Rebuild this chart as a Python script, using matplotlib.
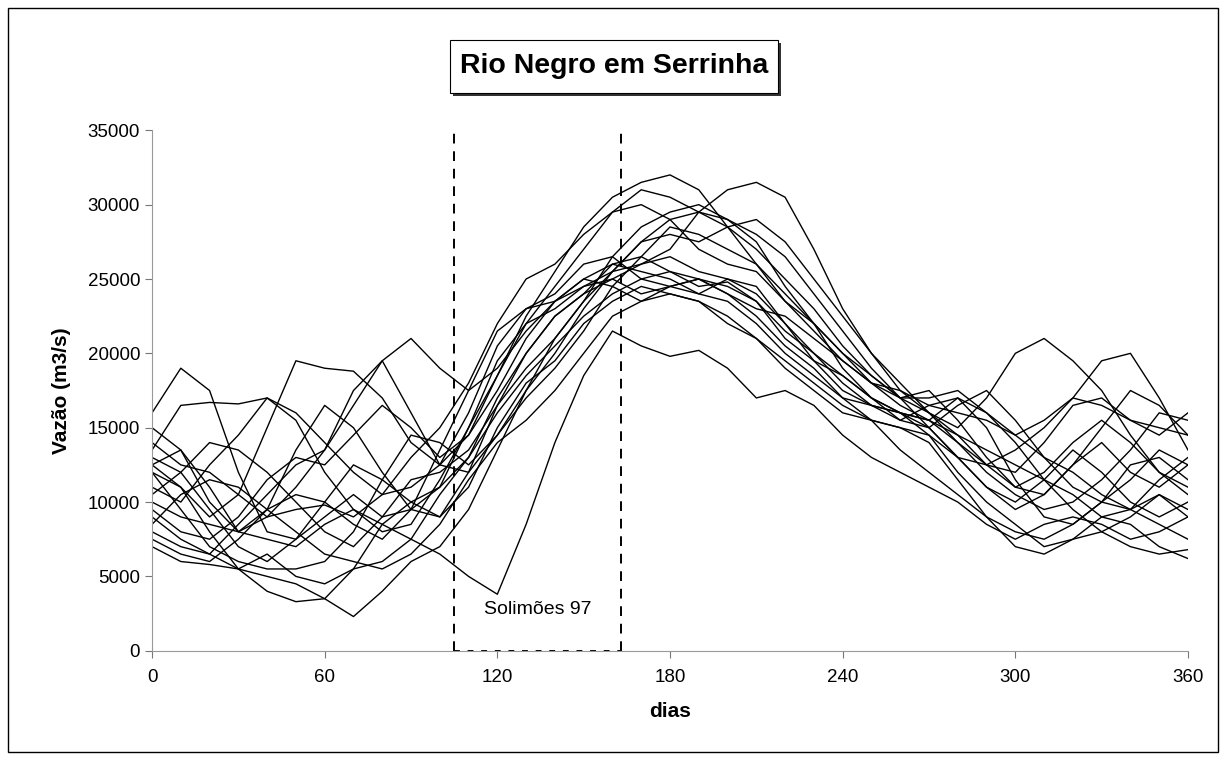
import matplotlib
matplotlib.use("Agg")
from matplotlib import pyplot as plt
from matplotlib.patches import Rectangle

plt.rcParams['font.family'] = ['Liberation Sans', 'DejaVu Sans']

# days sampled every 10 days
dias = list(range(0, 361, 10))

# daily discharge (m3/s) of each year
ano01 = [16000, 19000, 17500, 12000, 8000, 7500, 9000, 10500, 9000, 9500, 11000, 15000, 19500, 22000, 24500, 27000, 29500, 31000, 30500,
         29500, 28500, 27000, 25000, 23000, 20500, 18500, 17000, 16000, 14500, 12500, 11000, 10500, 12500, 14000, 12000, 11000, 12500]
ano02 = [12000, 11000, 9000, 10500, 15000, 19500, 19000, 18800, 17000, 14000, 12500, 14500, 18500, 22500, 25500, 28500, 30500, 31500, 32000,
         31000, 28500, 26000, 23500, 22000, 20000, 18500, 17000, 17000, 17500, 16000, 14500, 13000, 12000, 10500, 9500, 10500, 9500]
ano03 = [8000, 7000, 6500, 8500, 10500, 12500, 13500, 16500, 19500, 21000, 19000, 17500, 19000, 21500, 23500, 24500, 25500, 26000, 27000,
         29500, 31000, 31500, 30500, 27000, 23000, 20000, 17500, 16000, 15000, 17000, 20000, 21000, 19500, 17500, 14500, 12000, 11000]
ano04 = [13500, 16500, 16700, 16600, 17000, 16000, 14000, 12000, 10500, 11000, 12500, 16000, 20500, 23000, 24000, 26000, 26500, 25000, 24500,
         25000, 24000, 23000, 22500, 21000, 19500, 18000, 17500, 16500, 16000, 15500, 14500, 15500, 17000, 16500, 15500, 15000, 14500]
ano05 = [10000, 9000, 8500, 8000, 7500, 7000, 8500, 9500, 8500, 7500, 6500, 5000, 3800, 8500, 14000, 18500, 21500, 20500, 19800,
         20200, 19000, 17000, 17500, 16500, 14500, 13000, 12000, 11000, 10000, 8500, 7500, 8500, 9000, 8500, 7500, 8000, 9000]
ano06 = [9000, 7500, 6500, 5500, 5000, 4500, 3500, 2300, 4000, 6000, 7000, 9500, 13500, 17500, 21000, 23500, 25500, 27500, 29000,
         29500, 29000, 28000, 26500, 24000, 21500, 19000, 17000, 15000, 13000, 11000, 10000, 11500, 13500, 12000, 10000, 9000, 10000]
ano07 = [12500, 11000, 8000, 5500, 4000, 3300, 3500, 5500, 8500, 10000, 11000, 13000, 17000, 20000, 22500, 24000, 26000, 26500, 25500,
         24500, 24800, 23500, 21000, 19500, 17500, 16500, 16000, 15500, 14000, 12000, 10500, 9500, 10000, 11500, 13500, 16000, 15500]
ano08 = [15000, 13500, 11000, 8000, 9500, 13500, 16500, 15000, 12000, 9500, 9000, 12000, 16500, 19000, 21000, 23500, 26500, 28500, 29500,
         30000, 29000, 27500, 24500, 22000, 19000, 17000, 16000, 15500, 17000, 15000, 11500, 9000, 8500, 10000, 12500, 13000, 11500]
ano09 = [11000, 10000, 12500, 14500, 17000, 15500, 12000, 9500, 8000, 8500, 11500, 15000, 18500, 22000, 23000, 24500, 25000, 24000, 24500,
         24000, 25000, 24500, 22000, 19500, 18500, 17000, 16000, 15000, 13000, 11000, 9500, 10500, 12500, 15000, 17500, 16500, 14500]
ano10 = [7500, 6500, 6000, 7500, 9500, 10500, 10000, 8500, 7500, 9500, 13500, 17500, 21500, 23000, 23500, 25000, 26000, 25500, 25000,
         24000, 23500, 22000, 20000, 18500, 17000, 16500, 16000, 14500, 12000, 10000, 8500, 7000, 7500, 9000, 8500, 7000, 6200]
ano11 = [13000, 12000, 9500, 7000, 6000, 7500, 10000, 12500, 11500, 10000, 9000, 11000, 15000, 18000, 19500, 22000, 23500, 24500, 24000,
         23500, 22000, 21000, 19500, 18000, 16500, 15500, 15000, 14000, 11500, 9000, 7000, 6500, 7500, 8000, 7000, 6500, 6800]
ano12 = [14000, 12500, 12000, 10500, 9000, 9500, 9800, 9000, 10500, 13000, 15000, 18000, 22000, 25000, 26000, 28000, 29500, 30000, 29000,
         27000, 26000, 25500, 23500, 21500, 19500, 18000, 17000, 17500, 15500, 13000, 11000, 12000, 14000, 15500, 14000, 12000, 10500]
ano13 = [8500, 10500, 11500, 11000, 9500, 8000, 6500, 6000, 5500, 6500, 8500, 11500, 14000, 15500, 17500, 20000, 22500, 23500, 24000,
         23500, 22500, 21000, 19000, 17500, 16000, 15500, 15000, 14500, 13000, 12500, 13500, 15000, 17000, 19500, 20000, 17000, 13500]
ano14 = [10500, 12000, 14000, 13500, 12000, 10000, 8000, 7000, 9000, 11500, 12000, 13500, 16500, 20000, 22500, 24000, 25000, 26000, 26500,
         25500, 25000, 24000, 22000, 20000, 18000, 16500, 15500, 15000, 16500, 17500, 15500, 13000, 11000, 10000, 11500, 13500, 12500]
ano15 = [12000, 9500, 7000, 6000, 5500, 5500, 6000, 8000, 11500, 14500, 14000, 12500, 14500, 17000, 19000, 21500, 24500, 26500, 28500,
         28000, 27000, 26000, 24000, 22000, 20000, 18000, 16500, 15500, 14500, 13500, 12500, 11500, 10500, 9000, 9500, 11500, 13000]
ano16 = [9500, 8000, 7500, 9000, 11500, 13000, 12500, 14500, 16500, 15000, 13000, 14500, 17500, 21000, 23500, 25000, 24500, 23500, 24500,
         25000, 24500, 23500, 21500, 20000, 18500, 17000, 15500, 16500, 17000, 16000, 14000, 11500, 9500, 8000, 9000, 10500, 9000]
ano17 = [7000, 6000, 5800, 5500, 6500, 5000, 4500, 5500, 6000, 7500, 10500, 13000, 16000, 18500, 20500, 22500, 24000, 25000, 25500,
         25000, 24000, 22500, 20500, 19000, 17000, 15500, 13500, 12000, 10500, 9000, 8000, 7500, 8500, 10000, 9500, 8500, 7500]
ano18 = [12500, 13500, 10000, 8000, 9000, 11000, 13500, 17500, 19500, 16000, 12500, 12000, 14500, 17500, 20000, 23000, 25500, 27500, 28000,
         27500, 28500, 29000, 27500, 25000, 22500, 20000, 18000, 16000, 14000, 12500, 12000, 14000, 16500, 17000, 15500, 14500, 16000]

anos = [ano01, ano02, ano03, ano04, ano05, ano06, ano07, ano08, ano09,
        ano10, ano11, ano12, ano13, ano14, ano15, ano16, ano17, ano18]

# window of the Solimoes 97 campaign
janela = [105, 163]

fig = plt.figure(figsize=(12.26, 7.62), dpi=100)
ax = fig.add_axes([0.124, 0.146, 0.845, 0.683])

for serie in anos:
    ax.plot(dias, serie, color='black', linewidth=1.0)

# dashed box marking the campaign
for d in janela:
    ax.plot([d, d], [0, 35000], color='black', linestyle=(0, (5, 4)), linewidth=1.4)
ax.plot(janela, [0, 0], color='black', linestyle=(0, (3, 4)), linewidth=1.4)
ax.text(sum(janela) / 2, 2800, 'Solimões 97', ha='center', va='center', fontsize=14)

ax.set_xlim(0, 360)
ax.set_ylim(0, 35000)
ax.set_xticks(range(0, 361, 60))
ax.set_yticks(range(0, 35001, 5000))
ax.tick_params(axis='both', labelsize=13.5, length=5, color='#777777')
ax.tick_params(axis='x', pad=8)
ax.spines['top'].set_visible(False)
ax.spines['right'].set_visible(False)
ax.spines['left'].set_color('#999999')
ax.spines['bottom'].set_color('#999999')
ax.set_xlabel('dias', fontsize=15, fontweight='bold', labelpad=12)
ax.set_ylabel('Vazão (m3/s)', fontsize=15, fontweight='bold', labelpad=12)

# title box with shadow
fig.patches.append(Rectangle((453 / 1226, 1 - 96 / 762), 328 / 1226, 53 / 762,
                             transform=fig.transFigure, facecolor='#333333', edgecolor='none'))
fig.patches.append(Rectangle((450 / 1226, 1 - 93 / 762), 328 / 1226, 53 / 762,
                             transform=fig.transFigure, facecolor='white', edgecolor='black', linewidth=0.8))
fig.text(614 / 1226, 1 - 66 / 762, 'Rio Negro em Serrinha', ha='center', va='center',
         fontsize=20.5, fontweight='bold')

# outer frame
fig.patches.append(Rectangle((8 / 1226, 10 / 762), 1210 / 1226, 744 / 762,
                             transform=fig.transFigure, facecolor='none', edgecolor='black', linewidth=1))

fig.savefig('out.png', dpi=100)
